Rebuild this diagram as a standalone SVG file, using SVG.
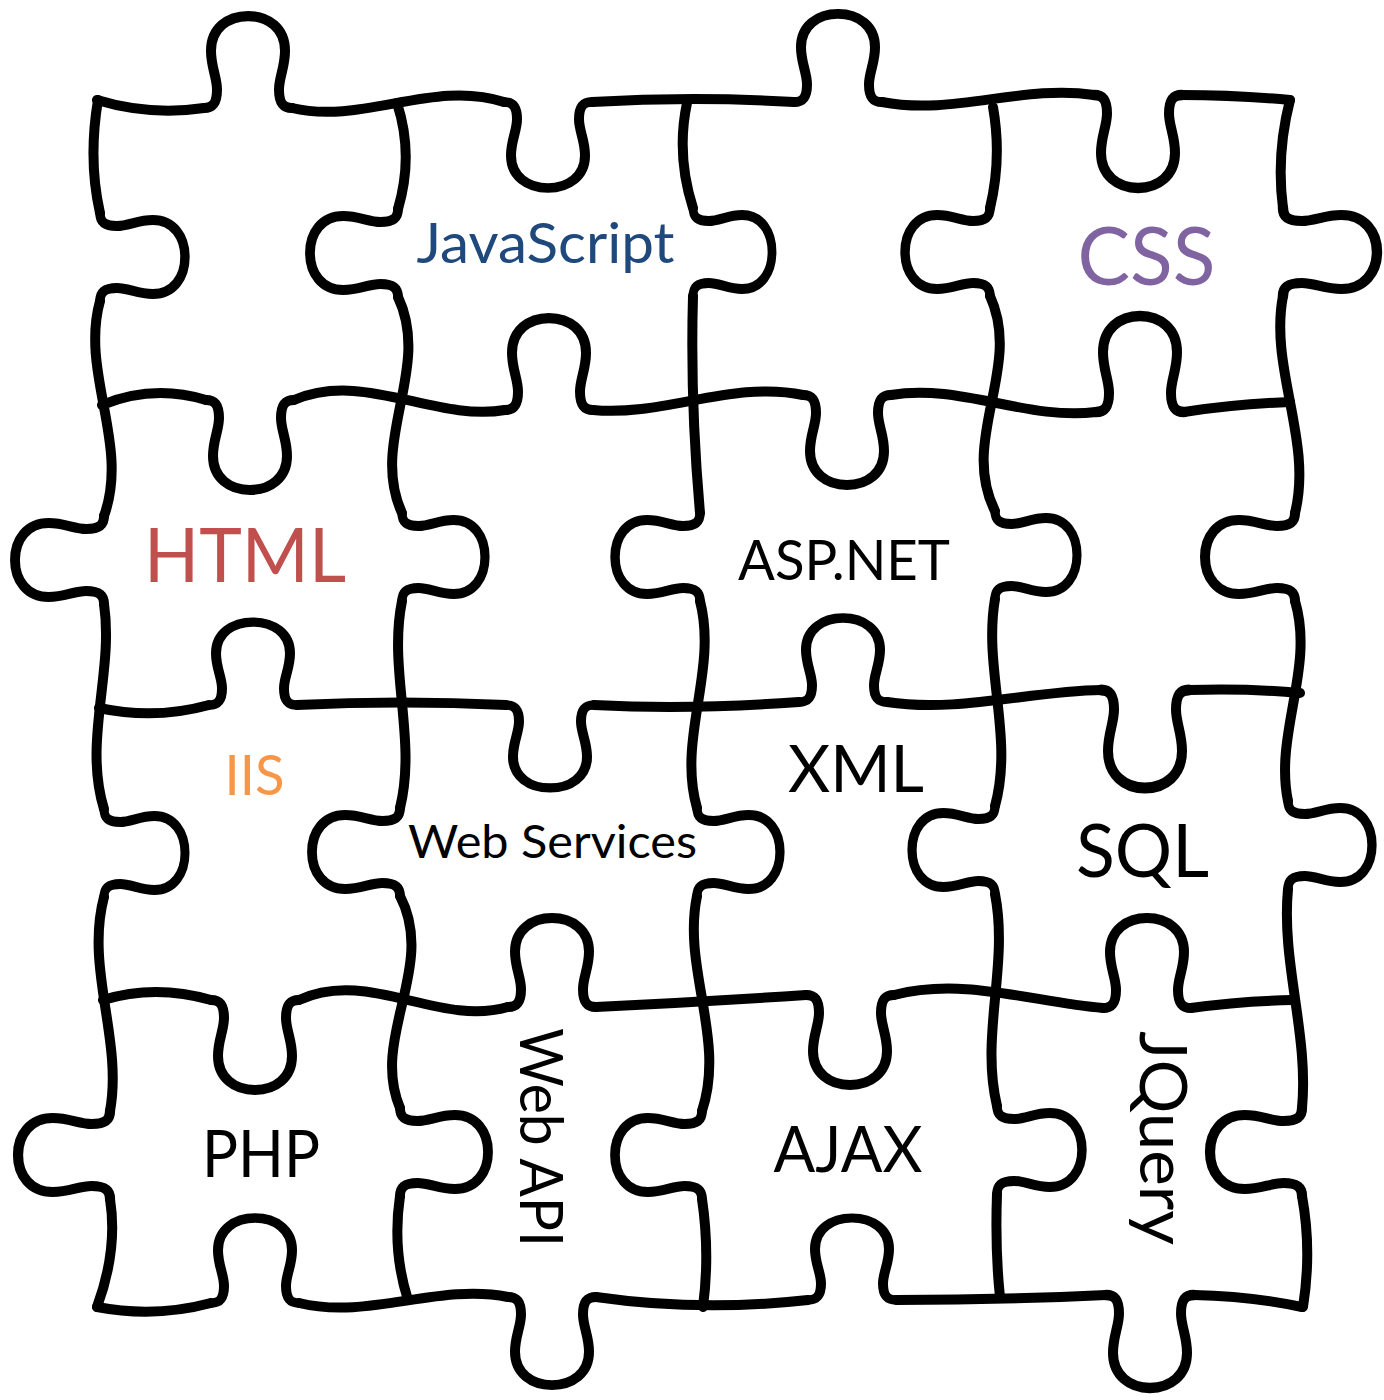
<svg xmlns="http://www.w3.org/2000/svg" xmlns:xlink="http://www.w3.org/1999/xlink" width="1384" height="1400" viewBox="0 0 1384 1400">
  <defs>
    <style>
      .cut{fill:none;stroke:#000;stroke-width:10;stroke-linecap:round;stroke-linejoin:round}
      .lbl{font-family:Lato,"Open Sans","Liberation Sans",sans-serif;text-anchor:middle}
    </style>
    <!-- one puzzle tab, base centred on the origin, pointing up, 90 deep -->
    <path id="knob" d="M-44,0 C-34,0 -31,-6 -31,-18 C-31,-30 -37,-40 -37,-56 C-37,-78 -20,-90 0,-90 C20,-90 37,-78 37,-56 C37,-40 31,-30 31,-18 C31,-6 34,0 44,0"/>
  </defs>
  <rect width="1384" height="1400" fill="#fff"/>

  <g id="cuts" class="cut">
    <!-- horizontal cut lines, top to bottom -->
    <g id="row0">
      <path d="M97,100 Q150,116 204,108 M292,108 C363,125 433,79 504,102 M592,102 Q693,96 794,102 M882,102 C953,116 1023,84 1094,95 M1182,95 Q1235,95 1290,100"/>
      <use xlink:href="#knob" transform="translate(248,108) scale(1,1.022)"/>
      <use xlink:href="#knob" transform="translate(548,102) scale(1,-0.956)"/>
      <use xlink:href="#knob" transform="translate(838,102) scale(1,0.978)"/>
      <use xlink:href="#knob" transform="translate(1138,95) scale(1,-1.033)"/>
    </g>
    <g id="row1">
      <path d="M102,405 Q153,384 206,400 M294,400 C364,370 435,422 505,410 M593,410 C663,417 733,380 803,395 M891,395 C959,383 1028,421 1096,412 M1184,412 Q1237,404 1290,402"/>
      <use xlink:href="#knob" transform="translate(250,400) scale(1,-1)"/>
      <use xlink:href="#knob" transform="translate(549,410) scale(1,1.022)"/>
      <use xlink:href="#knob" transform="translate(847,395) scale(1,-1)"/>
      <use xlink:href="#knob" transform="translate(1140,412) scale(1,1.067)"/>
    </g>
    <g id="row2">
      <path d="M99,708 Q155,720 209,705 M297,705 Q400,700 506,705 M594,705 Q690,710 799,702 M887,702 C958,713 1030,691 1101,690 M1189,690 Q1245,688 1300,693"/>
      <use xlink:href="#knob" transform="translate(253,705) scale(1,0.922)"/>
      <use xlink:href="#knob" transform="translate(550,705) scale(1,-0.922)"/>
      <use xlink:href="#knob" transform="translate(843,702) scale(1,0.933)"/>
      <use xlink:href="#knob" transform="translate(1145,690) scale(1,-1.089)"/>
    </g>
    <g id="row3">
      <path d="M103,1000 Q155,984 211,1000 M299,1000 C369,968 438,1027 508,1007 M596,1007 Q700,1002 806,995 M894,995 C964,977 1033,1002 1103,1008 M1191,1008 Q1240,1001 1293,1000"/>
      <use xlink:href="#knob" transform="translate(255,1000) scale(1,-1)"/>
      <use xlink:href="#knob" transform="translate(552,1007) scale(1,0.989)"/>
      <use xlink:href="#knob" transform="translate(850,995) scale(1,-1)"/>
      <use xlink:href="#knob" transform="translate(1147,1008) scale(1,1)"/>
    </g>
    <g id="row4">
      <path d="M97,1307 Q155,1318 211,1303 M299,1303 C369,1320 438,1283 508,1297 M596,1297 Q700,1312 808,1300 M896,1300 Q1000,1300 1106,1295 M1194,1295 Q1250,1296 1302,1307"/>
      <use xlink:href="#knob" transform="translate(255,1303) scale(1,0.944)"/>
      <use xlink:href="#knob" transform="translate(552,1297) scale(1,-0.978)"/>
      <use xlink:href="#knob" transform="translate(852,1300) scale(1,0.911)"/>
      <use xlink:href="#knob" transform="translate(1150,1295) scale(1,-1.033)"/>
    </g>

    <!-- vertical cut lines, left to right -->
    <g id="col0">
      <path d="M98,100 Q88,160 100,213 M100,301 C80,373 130,444 104,516 M104,604 C114,672 83,741 104,809 M104,897 C85,968 123,1040 110,1111 M110,1199 Q118,1250 97,1307"/>
      <use xlink:href="#knob" transform="translate(100,257) rotate(90) scale(1,0.944)"/>
      <use xlink:href="#knob" transform="translate(104,560) rotate(-90) scale(1,0.989)"/>
      <use xlink:href="#knob" transform="translate(104,853) rotate(90) scale(1,0.9)"/>
      <use xlink:href="#knob" transform="translate(110,1155) rotate(-90) scale(1,1.022)"/>
    </g>
    <g id="col1">
      <path d="M397,103 Q414,155 398,209 M398,297 C432,369 369,441 402,513 M402,601 C388,670 417,739 400,808 M400,896 C437,967 370,1037 400,1108 M400,1196 Q392,1250 408,1300"/>
      <use xlink:href="#knob" transform="translate(398,253) rotate(-90) scale(1,0.978)"/>
      <use xlink:href="#knob" transform="translate(402,557) rotate(90) scale(1,0.922)"/>
      <use xlink:href="#knob" transform="translate(400,852) rotate(-90) scale(1,0.978)"/>
      <use xlink:href="#knob" transform="translate(400,1152) rotate(90) scale(1,0.978)"/>
    </g>
    <g id="col2">
      <path d="M687,103 Q676,155 693,208 M693,296 Q690,400 700,513 M700,601 C718,670 677,739 697,808 M697,896 C682,968 726,1039 702,1111 M702,1199 Q710,1253 703,1307"/>
      <use xlink:href="#knob" transform="translate(693,252) rotate(90) scale(1,0.878)"/>
      <use xlink:href="#knob" transform="translate(700,557) rotate(-90) scale(1,0.944)"/>
      <use xlink:href="#knob" transform="translate(697,852) rotate(90) scale(1,0.922)"/>
      <use xlink:href="#knob" transform="translate(702,1155) rotate(-90) scale(1,0.967)"/>
    </g>
    <g id="col3">
      <path d="M993,107 Q1002,158 990,208 M990,296 C1023,368 959,439 995,511 M995,599 C983,668 1014,737 995,806 M995,894 C1009,965 980,1035 997,1106 M997,1194 Q995,1250 1000,1297"/>
      <use xlink:href="#knob" transform="translate(990,252) rotate(-90) scale(1,0.944)"/>
      <use xlink:href="#knob" transform="translate(995,555) rotate(90) scale(1,0.911)"/>
      <use xlink:href="#knob" transform="translate(995,850) rotate(-90) scale(1,0.922)"/>
      <use xlink:href="#knob" transform="translate(997,1150) rotate(90) scale(1,0.944)"/>
    </g>
    <g id="col4">
      <path d="M1290,100 Q1276,155 1283,208 M1283,296 C1269,368 1313,441 1295,513 M1295,601 C1315,668 1274,734 1288,801 M1288,889 C1281,962 1309,1035 1302,1108 M1302,1196 Q1312,1250 1303,1307"/>
      <use xlink:href="#knob" transform="translate(1283,252) rotate(90) scale(1,1.044)"/>
      <use xlink:href="#knob" transform="translate(1295,557) rotate(-90) scale(1,1)"/>
      <use xlink:href="#knob" transform="translate(1288,845) rotate(90) scale(1,0.933)"/>
      <use xlink:href="#knob" transform="translate(1302,1152) rotate(-90) scale(1,1.022)"/>
    </g>
  </g>

  <!-- piece labels -->
  <g id="labels" class="lbl">
    <text id="lbl-javascript" x="545.5" y="263" font-size="56" fill="#1F497D" textLength="258" lengthAdjust="spacingAndGlyphs">JavaScript</text>
    <text id="lbl-css" x="1146.5" y="285" font-size="82" fill="#8064A2" textLength="138" lengthAdjust="spacingAndGlyphs">CSS</text>
    <text id="lbl-html" x="245" y="582" font-size="75" fill="#C0504D" textLength="202" lengthAdjust="spacingAndGlyphs">HTML</text>
    <text id="lbl-aspnet" x="844" y="580" font-size="56" fill="#000" textLength="212" lengthAdjust="spacingAndGlyphs">ASP.NET</text>
    <text id="lbl-iis" x="254.5" y="795" font-size="56" fill="#F79646" textLength="60" lengthAdjust="spacingAndGlyphs">IIS</text>
    <text id="lbl-xml" x="856" y="792" font-size="65" fill="#000" textLength="136" lengthAdjust="spacingAndGlyphs">XML</text>
    <text id="lbl-webservices" x="552.5" y="858" font-size="47" fill="#000" textLength="289" lengthAdjust="spacingAndGlyphs">Web Services</text>
    <text id="lbl-sql" x="1142.5" y="877" font-size="73" fill="#000" textLength="133" lengthAdjust="spacingAndGlyphs">SQL</text>
    <text id="lbl-php" x="261" y="1177" font-size="65" fill="#000" textLength="118" lengthAdjust="spacingAndGlyphs">PHP</text>
    <text id="lbl-ajax" x="848" y="1172" font-size="63" fill="#000" textLength="149" lengthAdjust="spacingAndGlyphs">AJAX</text>
    <text id="lbl-webapi" transform="translate(520,1137.5) rotate(90)" font-size="60" fill="#000" textLength="219" lengthAdjust="spacingAndGlyphs">Web API</text>
    <text id="lbl-jquery" transform="translate(1140,1138) rotate(90)" font-size="66" fill="#000" textLength="214" lengthAdjust="spacingAndGlyphs">JQuery</text>
  </g>
</svg>
